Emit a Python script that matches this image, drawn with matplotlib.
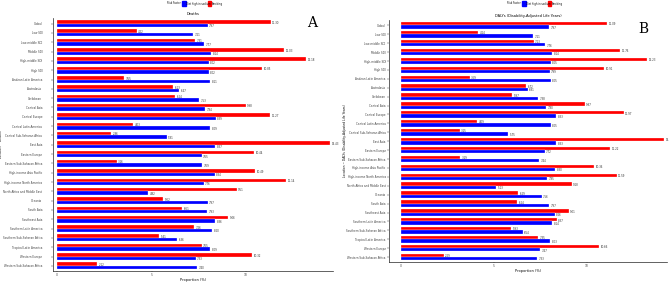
import matplotlib
matplotlib.use('Agg')
import matplotlib.pyplot as plt
import numpy as np

locations = ['Global', 'Low SDI', 'Low-middle SDI', 'Middle SDI', 'High-middle SDI', 'High SDI',
             'Andean Latin America', 'Australasia', 'Caribbean', 'Central Asia', 'Central Europe',
             'Central Latin America', 'Central Sub-Saharan Africa', 'East Asia', 'Eastern Europe',
             'Eastern Sub-Saharan Africa', 'High-income Asia Pacific', 'High-income North America',
             'North Africa and Middle East', 'Oceania', 'South Asia', 'Southeast Asia',
             'Southern Latin America', 'Southern Sub-Saharan Africa', 'Tropical Latin America',
             'Western Europe', 'Western Sub-Saharan Africa']

# panel A: deaths
deaths_smoking = [11.30, 4.22, 7.31, 12.03, 13.18, 10.85, 3.55, 6.13, 6.24, 9.98, 11.27,
                  4.03, 2.86, 14.43, 10.44, 3.16, 10.49, 12.14, 9.51, 5.62, 6.61, 9.06,
                  7.26, 5.41, 7.65, 10.32, 2.12]
deaths_sodium = [7.97, 7.21, 7.77, 8.14, 8.02, 8.02, 8.11, 6.47, 7.53, 7.84, 8.39,
                 8.09, 5.81, 8.37, 7.65, 7.69, 8.34, 7.76, 4.82, 7.97, 7.93, 8.36,
                 8.20, 6.36, 8.09, 7.33, 7.40]

# panel B: DALYs
dalys_smoking = [11.09, 4.14, 7.13, 11.76, 13.23, 10.91, 3.69, 6.72, 5.97, 9.87, 11.97,
                 4.09, 3.15, 14.14, 11.22, 3.19, 10.36, 11.59, 9.18, 6.29, 6.24, 9.01,
                 8.37, 5.93, 7.35, 10.66, 2.29]
dalys_sodium = [7.97, 7.11, 7.76, 8.14, 8.05, 7.99, 8.05, 6.81, 7.38, 7.80, 8.33,
                8.05, 5.75, 8.33, 7.72, 7.44, 8.30, 7.85, 5.13, 7.56, 7.97, 8.26,
                8.14, 6.54, 8.03, 7.47, 7.33]

W, H = 669, 283
fig = plt.figure(figsize=(W / 100, H / 100), dpi=100)


def panel(rect, smoking, sodium, title, ylabel, xlim, letter, letter_xy, legend_x, ypad, ylabelx):
    l, t, r, b = rect
    ax = fig.add_axes([l / W, 1 - b / H, (r - l) / W, (b - t) / H])
    y = np.arange(len(locations))
    h = 0.37
    ax.barh(y - h / 2, smoking, height=h, color='#ff0000', edgecolor='white', linewidth=0.2)
    ax.barh(y + h / 2, sodium, height=h, color='#0000ff', edgecolor='white', linewidth=0.2)
    for yi, v in zip(y, smoking):
        ax.text(v + 0.08, yi - h / 2 + 0.08, f'{v:.2f}', fontsize=1.9, va='center', color='#333333')
    for yi, v in zip(y, sodium):
        ax.text(v + 0.08, yi + h / 2 + 0.08, f'{v:.2f}', fontsize=1.9, va='center', color='#333333')
    ax.set_ylim(len(locations) - 0.45, -0.6)
    ax.set_xlim(*xlim)
    ax.set_yticks(y)
    ax.set_yticklabels(locations, fontsize=1.95, color='#444444')
    ax.set_xticks([0, 5, 10])
    ax.set_xticklabels(['0', '5', '10'], fontsize=2.2, color='#444444')
    ax.tick_params(axis='y', length=1.2, width=0.3, pad=ypad, color='#333333')
    ax.tick_params(axis='x', length=1.0, width=0.3, pad=0.6, color='#333333')
    for s in ['top', 'right']:
        ax.spines[s].set_visible(False)
    for s in ['left', 'bottom']:
        ax.spines[s].set_linewidth(0.5)
        ax.spines[s].set_color('#222222')
    ax.set_xlabel('Proportion (%)', fontsize=2.5, labelpad=0.8)
    ax.yaxis.set_label_coords((ylabelx - l) / (r - l), 0.5)
    ax.set_ylabel(ylabel, fontsize=2.2)
    ax.set_title(title, fontsize=2.6, pad=2.5)
    fig.text(letter_xy[0] / W, 1 - letter_xy[1] / H, letter, fontsize=10, family='serif',
             ha='center', va='center')
    # legend row
    ly = 1 - 3.5 / H
    fig.text(legend_x / W, ly, 'Risk Factor', fontsize=1.8, va='center')
    fig.patches.append(plt.Rectangle(((legend_x + 15) / W, ly - 2.5 / H), 3.5 / W, 5 / H,
                                     color='#0000ff', transform=fig.transFigure))
    fig.text((legend_x + 19.5) / W, ly, 'Diet high in sodium', fontsize=1.8, va='center')
    fig.patches.append(plt.Rectangle(((legend_x + 40.5) / W, ly - 2.5 / H), 3.5 / W, 5 / H,
                                     color='#ff0000', transform=fig.transFigure))
    fig.text((legend_x + 45) / W, ly, 'Smoking', fontsize=1.8, va='center')
    return ax


panel((53, 18, 333, 271), deaths_smoking, deaths_sodium, 'Deaths', 'Location ~ Deaths',
      (-0.21, 14.6), 'A', (312, 23), 167, 6.5, 3)
panel((389, 20, 667, 262), dalys_smoking, dalys_sodium, 'DALYs (Disability-Adjusted Life Years)',
      'Location ~ DALYs (Disability-Adjusted Life Years)', (-0.65, 14.3), 'B', (643, 29), 507,
      1.2, 347)

fig.savefig('out.png', dpi=100)
